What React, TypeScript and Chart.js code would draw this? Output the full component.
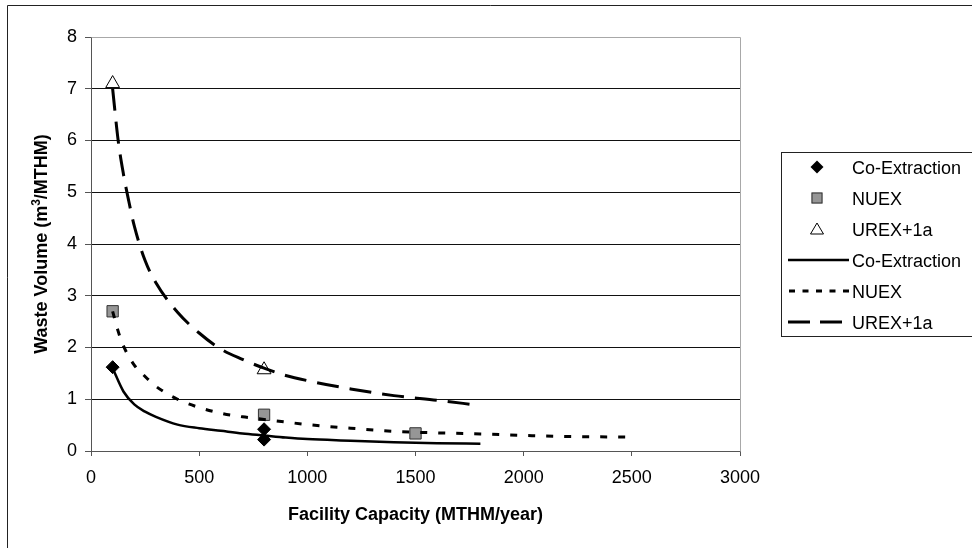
import React, { useEffect, useRef } from 'react';
import { Chart, registerables } from 'chart.js';

Chart.register(...registerables);

// Measured data points (markers)
const coExtractionPointsX = [100, 800, 800];
const coExtractionPointsY = [1.62, 0.42, 0.22];
const nuexPointsX = [100, 800, 1500];
const nuexPointsY = [2.7, 0.7, 0.34];
const urexPointsX = [100, 800];
const urexPointsY = [7.1, 1.57];

// Fitted curves
const coExtractionCurveX = [100, 150, 200, 250, 300, 400, 500, 600, 700, 800, 900, 1000, 1200, 1400, 1600, 1800];
const coExtractionCurveY = [1.6, 1.15, 0.9, 0.76, 0.66, 0.51, 0.44, 0.39, 0.34, 0.3, 0.26, 0.23, 0.2, 0.17, 0.15, 0.14];
const nuexCurveX = [100, 125, 150, 200, 250, 300, 400, 500, 600, 700, 800, 900, 1000, 1200, 1400, 1600, 1800, 2000, 2200, 2480];
const nuexCurveY = [2.7, 2.32, 2.03, 1.66, 1.44, 1.25, 1.0, 0.84, 0.73, 0.66, 0.61, 0.56, 0.51, 0.44, 0.38, 0.35, 0.33, 0.3, 0.28, 0.27];
const urexCurveX = [100, 125, 150, 175, 200, 250, 300, 400, 500, 600, 700, 800, 900, 1000, 1200, 1400, 1600, 1780];
const urexCurveY = [7.0, 6.02, 5.35, 4.82, 4.35, 3.68, 3.25, 2.68, 2.28, 1.97, 1.77, 1.6, 1.46, 1.36, 1.2, 1.07, 0.98, 0.89];

// Axis settings
const xMin = 0;
const xMax = 3000;
const xStep = 500;
const yMin = 0;
const yMax = 8;
const yStep = 1;

const xTitle = 'Facility Capacity (MTHM/year)';
const yTitleBefore = 'Waste Volume (m';
const yTitleSup = '3';
const yTitleAfter = '/MTHM)';
const legendLabels = ['Co-Extraction', 'NUEX', 'UREX+1a', 'Co-Extraction', 'NUEX', 'UREX+1a'];

const FONT = "'Liberation Sans', Arial, Helvetica, sans-serif";

function toPoints(xs: number[], ys: number[]) {
  return xs.map((x, i) => ({ x, y: ys[i] }));
}

export default function App() {
  const ref = useRef<HTMLCanvasElement>(null);

  useEffect(() => {
    const canvas = ref.current;
    if (!canvas) return;

    const decor = {
      id: 'decor',
      beforeDatasetsDraw(chart: any) {
        const { ctx, chartArea } = chart;
        ctx.save();
        ctx.strokeStyle = '#a8a8a8';
        ctx.lineWidth = 1;
        ctx.beginPath();
        ctx.moveTo(Math.round(chartArea.left) + 0.5, Math.round(chartArea.top) + 0.5);
        ctx.lineTo(Math.round(chartArea.right) + 0.5, Math.round(chartArea.top) + 0.5);
        ctx.lineTo(Math.round(chartArea.right) + 0.5, Math.round(chartArea.bottom) + 0.5);
        ctx.stroke();
        ctx.restore();
      },
      afterDraw(chart: any) {
        const { ctx, chartArea } = chart;
        ctx.save();
        // outer frame
        ctx.strokeStyle = '#222';
        ctx.lineWidth = 1;
        ctx.beginPath();
        ctx.moveTo(7.5, 560);
        ctx.lineTo(7.5, 5.5);
        ctx.lineTo(980, 5.5);
        ctx.stroke();

        // x title
        ctx.fillStyle = '#000';
        ctx.font = `bold 18px ${FONT}`;
        ctx.textAlign = 'center';
        ctx.textBaseline = 'alphabetic';
        ctx.fillText(xTitle, (chartArea.left + chartArea.right) / 2, 519.5);

        // y title with superscript
        ctx.save();
        ctx.translate(46.5, (chartArea.top + chartArea.bottom) / 2);
        ctx.rotate(-Math.PI / 2);
        ctx.font = `bold 18px ${FONT}`;
        const w1 = ctx.measureText(yTitleBefore).width;
        const w3 = ctx.measureText(yTitleAfter).width;
        ctx.font = `bold 12px ${FONT}`;
        const w2 = ctx.measureText(yTitleSup).width;
        const total = w1 + w2 + w3;
        let px = -total / 2;
        ctx.textAlign = 'left';
        ctx.font = `bold 18px ${FONT}`;
        ctx.fillText(yTitleBefore, px, 0);
        px += w1;
        ctx.font = `bold 12px ${FONT}`;
        ctx.fillText(yTitleSup, px, -7);
        px += w2;
        ctx.font = `bold 18px ${FONT}`;
        ctx.fillText(yTitleAfter, px, 0);
        ctx.restore();

        // legend
        const lx = 781.5;
        const ly = 152.5;
        ctx.strokeStyle = '#222';
        ctx.lineWidth = 1;
        ctx.strokeRect(lx, ly, 260, 184);
        const rows = legendLabels.map((_, i) => 167 + i * 31);
        const mx = 817;
        ctx.font = `18px ${FONT}`;
        ctx.textAlign = 'left';
        ctx.textBaseline = 'alphabetic';
        ctx.fillStyle = '#000';
        legendLabels.forEach((t, i) => ctx.fillText(t, 852, rows[i] + 6.5));

        // diamond
        let y = rows[0];
        ctx.beginPath();
        ctx.moveTo(mx - 6.5, y);
        ctx.lineTo(mx, y - 6.5);
        ctx.lineTo(mx + 6.5, y);
        ctx.lineTo(mx, y + 6.5);
        ctx.closePath();
        ctx.fillStyle = '#000';
        ctx.fill();
        // square
        y = rows[1];
        ctx.fillStyle = '#969696';
        ctx.fillRect(mx - 5.5, y - 5.5, 11, 11);
        ctx.strokeStyle = '#333';
        ctx.strokeRect(mx - 5.5 + 0.5, y - 5.5 + 0.5, 10, 10);
        // triangle
        y = rows[2];
        ctx.beginPath();
        ctx.moveTo(mx, y - 6);
        ctx.lineTo(mx + 6.5, y + 5);
        ctx.lineTo(mx - 6.5, y + 5);
        ctx.closePath();
        ctx.fillStyle = '#fff';
        ctx.fill();
        ctx.strokeStyle = '#000';
        ctx.stroke();
        // lines
        ctx.strokeStyle = '#000';
        ctx.lineCap = 'butt';
        ctx.lineWidth = 2.5;
        ctx.setLineDash([]);
        ctx.beginPath();
        ctx.moveTo(788, rows[3]);
        ctx.lineTo(849, rows[3]);
        ctx.stroke();
        ctx.lineWidth = 3;
        ctx.setLineDash([6, 7.5]);
        ctx.beginPath();
        ctx.moveTo(789, rows[4]);
        ctx.lineTo(849, rows[4]);
        ctx.stroke();
        ctx.setLineDash([22, 10]);
        ctx.beginPath();
        ctx.moveTo(788, rows[5]);
        ctx.lineTo(842, rows[5]);
        ctx.stroke();
        ctx.restore();
      },
    };

    const lineBase = {
      showLine: true,
      pointRadius: 0,
      pointHoverRadius: 0,
      fill: false,
      borderColor: '#000',
      borderCapStyle: 'butt',
      cubicInterpolationMode: 'monotone',
      order: 0,
    };

    const chart = new Chart(canvas, {
      type: 'scatter',
      data: {
        datasets: [
          {
            ...lineBase,
            label: 'Co-Extraction',
            data: toPoints(coExtractionCurveX, coExtractionCurveY),
            borderWidth: 2.5,
          },
          {
            ...lineBase,
            label: 'NUEX',
            data: toPoints(nuexCurveX, nuexCurveY),
            borderWidth: 3,
            borderDash: [7, 11],
          },
          {
            ...lineBase,
            label: 'UREX+1a',
            data: toPoints(urexCurveX, urexCurveY),
            borderWidth: 3,
            borderDash: [22, 11],
          },
          {
            label: 'Co-Extraction',
            data: toPoints(coExtractionPointsX, coExtractionPointsY),
            showLine: false,
            pointStyle: 'rectRot',
            pointRadius: 6.5,
            pointBackgroundColor: '#000',
            pointBorderColor: '#000',
            pointBorderWidth: 1,
            order: 1,
            clip: false,
          },
          {
            label: 'NUEX',
            data: toPoints(nuexPointsX, nuexPointsY),
            showLine: false,
            pointStyle: 'rect',
            pointRadius: 8,
            pointBackgroundColor: '#969696',
            pointBorderColor: '#333',
            pointBorderWidth: 1,
            order: 1,
            clip: false,
          },
          {
            label: 'UREX+1a',
            data: toPoints(urexPointsX, urexPointsY),
            showLine: false,
            pointStyle: 'triangle',
            pointRadius: 8,
            pointBackgroundColor: '#fff',
            pointBorderColor: '#000',
            pointBorderWidth: 1,
            order: 1,
            clip: false,
          },
        ] as any,
      },
      options: {
        animation: false,
        responsive: false,
        devicePixelRatio: 1,
        events: [],
        layout: { padding: { left: 0, top: 37, right: 232, bottom: 0 } },
        plugins: {
          legend: { display: false },
          tooltip: { enabled: false },
          title: { display: false },
        },
        scales: {
          x: {
            type: 'linear',
            min: xMin,
            max: xMax,
            afterFit(scale: any) {
              scale.height = 97;
            },
            ticks: {
              stepSize: xStep,
              color: '#000',
              font: { family: FONT, size: 18 },
              padding: 11,
              maxRotation: 0,
              callback: (v: any) => String(v),
            },
            grid: {
              drawOnChartArea: false,
              drawTicks: true,
              tickLength: 5,
              tickColor: '#555',
              color: '#555',
            },
            border: { display: true, color: '#555', width: 1 },
          },
          y: {
            type: 'linear',
            min: yMin,
            max: yMax,
            afterFit(scale: any) {
              scale.width = 91;
            },
            ticks: {
              stepSize: yStep,
              color: '#000',
              font: { family: FONT, size: 18 },
              padding: 8,
              callback: (v: any) => String(v),
            },
            grid: {
              drawOnChartArea: true,
              drawTicks: true,
              tickLength: 6,
              tickColor: '#555',
              color: (ctx: any) =>
                ctx.tick && (ctx.tick.value === yMax || ctx.tick.value === yMin) ? 'rgba(0,0,0,0)' : '#111',
            },
            border: { display: true, color: '#555', width: 1 },
          },
        },
      } as any,
      plugins: [decor],
    });

    return () => chart.destroy();
  }, []);

  return (
    <div style={{ position: 'fixed', left: 0, top: 0, width: 972, height: 548, background: '#fff' }}>
      <canvas ref={ref} width={972} height={548} style={{ display: 'block', width: 972, height: 548 }} />
    </div>
  );
}
